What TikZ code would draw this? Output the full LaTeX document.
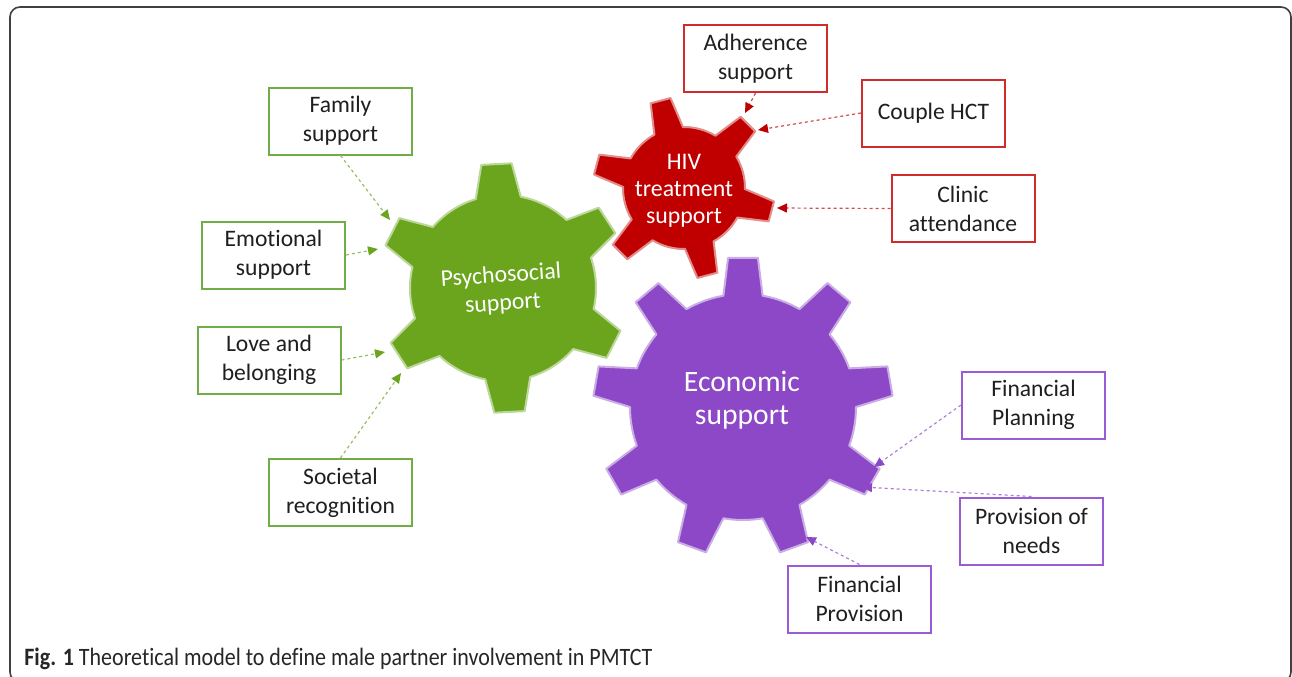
\documentclass[tikz,border=0pt]{standalone}
\usepackage{fontspec}
\setmainfont{Carlito}[Ligatures=NoCommon]
\newfontfamily\capfont{Carlito}[FakeStretch=0.88, Ligatures=NoCommon]
\usetikzlibrary{arrows.meta}

\definecolor{psygreen}{HTML}{6BA51E}
\definecolor{hivred}{HTML}{C00000}
\definecolor{ecopurple}{HTML}{8C48C6}
\definecolor{boxgreen}{HTML}{70AD47}
\definecolor{boxred}{HTML}{D22B2B}
\definecolor{boxpurple}{HTML}{9A5BD6}

% cog wheel: centre, teeth, first tooth angle, body radius, tip radius,
% half angle of tooth at body, half angle of tooth at tip, colour
\newcommand{\cog}[8]{%
  \begin{scope}[shift={#1}]
    \filldraw[fill=#8, draw=#8!45!white, line width=1pt, line join=round]
      ({#3-#6}:#4)
      \foreach \k [evaluate=\k as \a using #3+(\k-1)*360/#2] in {1,...,#2} {
        -- ({\a-#7}:#5) -- ({\a+#7}:#5) -- ({\a+#6}:#4)
        arc[start angle={\a+#6}, end angle={\a+360/#2-#6}, radius=#4]
      } -- cycle;
  \end{scope}}

\begin{document}
\begin{tikzpicture}[x=0.5pt, y=0.5pt,
    box/.style={draw=#1, line width=1pt, fill=white, minimum width=71.5pt,
      minimum height=33.5pt, inner sep=0pt, align=center, text=black!88,
      font=\fontsize{11.8}{14.5}\selectfont},
    arrow/.style={-{Triangle[length=5pt, width=4.5pt, color=#1]}, draw=#1!70!white,
      line width=0.6pt, dash pattern=on 1.5pt off 1.5pt},
    geartext/.style={text=white, align=center, font=\fontsize{11.9}{13.5}\selectfont}
]
\useasboundingbox (0,0) rectangle (1292,-676);

% frame
\begin{scope}
\clip (0,0) rectangle (1292,-676);
\draw[black!75, line width=0.8pt, rounded corners=5pt] (10,-7) rectangle (1291,-682);
\end{scope}

% gears
\cog{(684,-188)}{6}{45}{61}{91}{14}{6.5}{hivred}
\cog{(503,-288)}{6}{33}{93}{125}{14}{7}{psygreen}
\cog{(743,-407)}{9}{10}{113}{150}{10}{5.7}{ecopurple}

\node[geartext, rotate=4, font=\fontsize{11.9}{14}\selectfont] (psy) at (502,-290) {Psychosocial\\support};
\node[geartext] (hiv) at (684,-191) {HIV\\treatment\\support};
\node[geartext, font=\fontsize{14.8}{16.5}\selectfont] (eco) at (742,-400) {Economic\\support};

% tooth tips the arrows point at
\coordinate (t-fam) at (390,-220);
\coordinate (t-emo) at (378,-249);
\coordinate (t-love) at (385,-352);
\coordinate (t-soc) at (401,-373);
\coordinate (t-adh) at (745,-113);
\coordinate (t-hct) at (758,-130);
\coordinate (t-clin) at (777,-208);
\coordinate (t-plan) at (874,-467);
\coordinate (t-needs) at (862,-487);
\coordinate (t-prov) at (806,-537);

% psychosocial boxes
\node[box=boxgreen] (fam) at (340.5,-121) {Family\\support};
\node[box=boxgreen] (emo) at (273.5,-255) {Emotional\\support};
\node[box=boxgreen] (love) at (269,-360) {Love and\\belonging};
\node[box=boxgreen] (soc) at (340.5,-492.5) {Societal\\recognition};

% hiv treatment boxes
\node[box=boxred] (adh) at (755.5,-58.5) {Adherence\\support};
\node[box=boxred] (hct) at (933.5,-113) {Couple HCT};
\node[box=boxred] (clin) at (963,-208.5) {Clinic\\attendance};

% economic boxes
\node[box=boxpurple] (plan) at (1033.5,-405) {Financial\\Planning};
\node[box=boxpurple] (needs) at (1031.5,-531) {Provision of\\needs};
\node[box=boxpurple] (prov) at (859.5,-599) {Financial\\Provision};

% dotted arrows
\draw[arrow=psygreen] (fam.south) -- (t-fam);
\draw[arrow=psygreen] (emo.east) -- (t-emo);
\draw[arrow=psygreen] (love.east) -- (t-love);
\draw[arrow=psygreen] (soc.north) -- (t-soc);

\draw[arrow=hivred] (adh.south) -- (t-adh);
\draw[arrow=hivred] (hct.west) -- (t-hct);
\draw[arrow=hivred] (clin.west) -- (t-clin);

\draw[arrow=ecopurple] (plan.west) -- (t-plan);
\draw[arrow=ecopurple] (needs.north) -- (t-needs);
\draw[arrow=ecopurple] (prov.north) -- (t-prov);

% caption
\node[anchor=base west, inner sep=0pt, font=\capfont\fontsize{12.5}{14}\selectfont, text=black!85]
  (cap) at (24,-665) {\textbf{Fig. 1} Theoretical model to define male partner involvement in PMTCT};

\end{tikzpicture}
\end{document}
